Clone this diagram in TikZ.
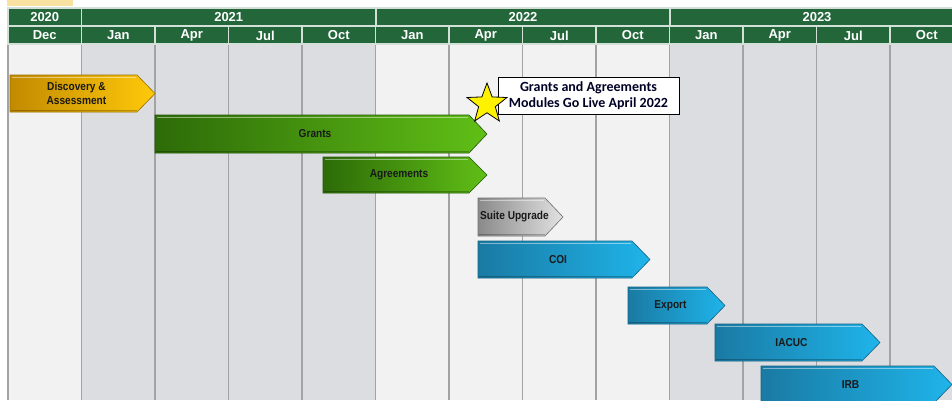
\documentclass[tikz,border=0pt]{standalone}
\usepackage{fontspec}
\setmainfont{Liberation Sans}
\newfontfamily\narrowfont[FakeStretch=0.88]{Liberation Sans}
\newfontfamily\calloutfont{Carlito}
\usetikzlibrary{shapes.geometric}

\definecolor{hdrgreen}{HTML}{22663A}
\definecolor{colpale}{HTML}{F2F2F2}
\definecolor{coldark}{HTML}{DCDDE0}
\definecolor{seprule}{HTML}{A3A3A3}
\definecolor{topbeige}{HTML}{F9E1A2}
\definecolor{yellowL}{HTML}{C28A00}
\definecolor{yellowR}{HTML}{FFC90A}
\definecolor{greenL}{HTML}{2D6B08}
\definecolor{greenR}{HTML}{60BF16}
\definecolor{grayL}{HTML}{8A8A8A}
\definecolor{grayR}{HTML}{E2E2E2}
\definecolor{blueL}{HTML}{1A7AA3}
\definecolor{blueM}{HTML}{62CBF3}
\definecolor{blueR}{HTML}{1FB4EA}

\tikzset{
  hdrcell/.style={fill=hdrgreen, draw=white!80!hdrgreen, line width=1.2pt},
  hdrtext/.style={text=white, font=\bfseries\fontsize{13}{14}\selectfont},
  bartext/.style={font=\narrowfont\bfseries\fontsize{11.5}{13.5}\selectfont, align=center, text=black!90},
  colsep/.style={draw=seprule, line width=1.3pt},
  yellowbar/.style={left color=yellowL, right color=yellowR, draw=yellowL!80!black, line width=.6pt},
  greenbar/.style={left color=greenL, right color=greenR, draw=greenL!80!black, line width=.6pt},
  graybar/.style={left color=grayL, right color=grayR, draw=grayL!80!black, line width=.6pt},
  bluebar/.style={left color=blueL, middle color=blueM, right color=blueR, draw=blueL!80!black, line width=.6pt},
  callout/.style={draw=black, fill=white, line width=.9pt, align=center, font=\calloutfont\bfseries\fontsize{14}{16}\selectfont, text=black!85!blue, minimum width=181pt, minimum height=37pt, inner sep=1pt},
}

% #1 name, #2 x start, #3 x tip, #4 y top, #5 y bottom, #6 look, #7 label
\newcommand*{\ganttbar}[7]{%
  \path[#6] (#2,#4) -- ({#3-18},#4) -- (#3,{(#4+#5)/2}) -- ({#3-18},#5) -- (#2,#5) -- cycle;
  \draw[white, opacity=.45, line width=1.6pt] ({#2+2},{#4+2.5}) -- ({#3-19},{#4+2.5});
  \draw[black, opacity=.25, line width=1.4pt] ({#2+1},{#5-1.5}) -- ({#3-18},{#5-1.5});
  \node[bartext] (#1) at ({(#2+#3-18)/2+3},{(#4+#5)/2}) {#7};
}

\begin{document}
\begin{tikzpicture}[x=1pt,y=-1pt]
\useasboundingbox (0,0) rectangle (952,400);
\clip (0,0) rectangle (952,400);

\fill[topbeige] (7,0) rectangle (73,6);

% Column backgrounds and month headers
\foreach \m [count=\i from 0] in {Dec,Jan,Apr,Jul,Oct,Jan,Apr,Jul,Oct,Jan,Apr,Jul,Oct}{
  \pgfmathsetmacro{\xa}{8+73.5*\i}
  \pgfmathsetmacro{\xb}{8+73.5*(\i+1)}
  \ifnum\i=0 \def\colfill{colpale}\else
    \ifnum\i<5 \def\colfill{coldark}\else
      \ifnum\i<9 \def\colfill{colpale}\else \def\colfill{coldark}\fi\fi\fi
  \fill[\colfill] (\xa,44) rectangle (\xb,400);
  \draw[colsep] (\xa,44) -- (\xa,400);
  \path[hdrcell] (\xa,26) rectangle (\xb,44);
  \node[hdrtext] (m\i) at ({(\xa+\xb)/2},35.5) {\m};
}

% Year headers
\path[hdrcell] (8,8) rectangle (81.5,26);
\node[hdrtext] (y2020) at (44.75,17) {2020};
\path[hdrcell] (81.5,8) rectangle (376,26);
\node[hdrtext] (y2021) at (228.75,17) {2021};
\path[hdrcell] (376,8) rectangle (670,26);
\node[hdrtext] (y2022) at (523,17) {2022};
\path[hdrcell] (670,8) rectangle (964,26);
\node[hdrtext] (y2023) at (817,17) {2023};

% Bars
\ganttbar{discovery}{10}{155}{75}{112}{yellowbar}{Discovery \&\\Assessment}
\ganttbar{grants}{155}{487}{115}{153}{greenbar}{Grants}
\ganttbar{agreements}{323}{487}{157}{193}{greenbar}{Agreements}
\ganttbar{suite}{478}{563}{198}{236}{graybar}{Suite Upgrade}
\ganttbar{coi}{478}{650}{241}{278}{bluebar}{COI}
\ganttbar{export}{628}{725}{287}{324}{bluebar}{Export}
\ganttbar{iacuc}{715}{880}{324}{361}{bluebar}{IACUC}
\ganttbar{irb}{761}{952}{366}{403}{bluebar}{IRB}

% Go-live marker
\node[callout] (golive) at (588.5,95.5) {Grants and Agreements\\Modules Go Live April 2022};
\node[star, star points=5, star point ratio=2.4, minimum size=42pt, inner sep=0pt,
      fill=yellow, draw=black, line width=.8pt] (star) at (487,104) {};
\end{tikzpicture}
\end{document}
